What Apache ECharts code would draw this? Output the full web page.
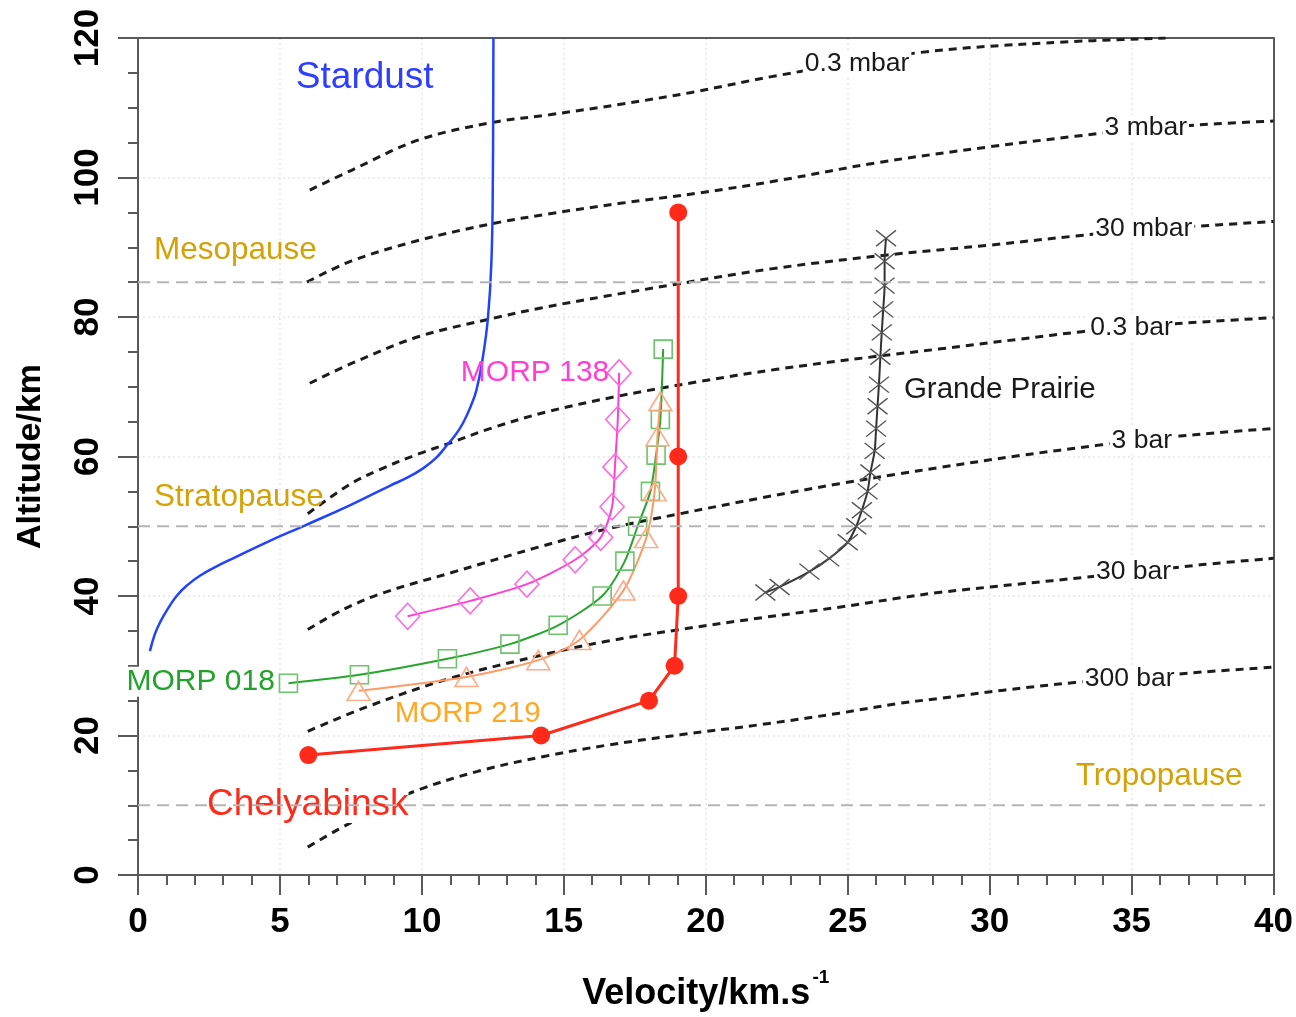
<!DOCTYPE html>
<html>
<head>
<meta charset="utf-8">
<script src="https://cdn.jsdelivr.net/npm/echarts@6/dist/echarts.min.js"></script>
<style>
html, body { margin: 0; padding: 0; background: #fff; }
#chart { width: 1296px; height: 1017px; }
</style>
</head>
<body>
<div id="chart"></div>
<script>
// ---- Trajectories: velocity (km/s) against altitude (km) ----
const stardustVel = [0.42, 0.6, 0.8, 1.01, 1.36, 1.75, 2.18, 2.7, 3.35, 4.53, 5.87, 7.46, 8.87, 9.5, 10.04, 10.5, 10.86, 11.2, 11.45, 11.7, 11.92, 12.15, 12.33, 12.45, 12.5, 12.52];
const stardustAlt = [32.1, 34.6, 36.4, 37.9, 40.0, 41.6, 42.9, 44.1, 45.4, 47.7, 50.1, 53.0, 55.8, 57.0, 58.3, 59.8, 61.5, 63.2, 64.8, 67.0, 69.5, 74.3, 80.0, 88.0, 100.0, 120.0];

const chelyabinskVel = [6.0, 14.2, 18.0, 18.9, 19.03, 19.03, 19.03];
const chelyabinskAlt = [17.2, 20.0, 25.0, 30.0, 40.0, 60.0, 95.0];

const morp138Vel = [9.5, 11.7, 13.7, 15.4, 16.3, 16.7, 16.8, 16.9, 16.95];
const morp138Alt = [37.1, 39.3, 41.7, 45.2, 48.4, 52.8, 58.5, 65.3, 72.0];

const morp018Vel = [5.3, 7.8, 10.9, 13.1, 14.8, 16.35, 17.15, 17.6, 18.05, 18.25, 18.4, 18.5];
const morp018Alt = [27.5, 28.7, 31.0, 33.1, 35.8, 40.0, 45.0, 50.0, 55.0, 60.2, 65.3, 75.4];

const morp219Vel = [7.77, 11.57, 14.1, 15.55, 17.1, 17.9, 18.2, 18.3, 18.4];
const morp219Alt = [26.4, 28.4, 30.8, 33.7, 40.8, 48.3, 55.0, 62.9, 67.9];

const grandePrairieVel = [22.1, 22.6, 23.65, 24.35, 25.0, 25.3, 25.5, 25.7, 25.8, 25.95, 26.0, 26.05, 26.1, 26.15, 26.2, 26.25, 26.3, 26.3, 26.35];
const grandePrairieAlt = [40.5, 41.3, 43.5, 45.4, 47.7, 50.0, 52.3, 55.0, 57.7, 60.8, 64.0, 67.2, 70.3, 74.3, 77.8, 81.1, 84.5, 88.0, 91.3];

// ---- Ram-pressure isobars ----
const isobarNames = ['0.3 mbar', '3 mbar', '30 mbar', '0.3 bar', '3 bar', '30 bar', '300 bar'];
const isobar03mbarVel = [6.05, 7.5, 9.9, 12.5, 14.5, 17.0, 19.5, 22.5, 27.5, 32.0, 36.2];
const isobar03mbarAlt = [98.2, 101.0, 105.4, 107.9, 109.0, 110.5, 112.2, 114.6, 117.9, 119.3, 120.0];
const isobar3mbarVel = [5.95, 7.5, 9.9, 12.5, 14.5, 17.0, 19.8, 22.6, 26.0, 30.0, 33.0, 35.5, 38.0, 40.0];
const isobar3mbarAlt = [85.0, 88.0, 91.0, 93.4, 94.8, 96.3, 97.8, 99.6, 102.1, 104.4, 105.9, 107.0, 107.7, 108.1];
const isobar30mbarVel = [6.05, 7.5, 9.9, 12.5, 14.2, 16.5, 18.8, 22.3, 26.4, 30.0, 33.0, 35.4, 38.0, 40.0];
const isobar30mbarAlt = [70.5, 73.3, 77.2, 79.8, 81.3, 83.0, 84.6, 86.9, 88.9, 90.3, 91.6, 92.5, 93.2, 93.7];
const isobar03barVel = [5.98, 7.46, 8.5, 9.9, 10.9, 12.4, 14.4, 16.85, 19.7, 22.5, 25.9, 28.2, 31.0, 33.25, 35.0, 37.5, 40.0];
const isobar03barAlt = [51.8, 56.0, 58.1, 60.4, 61.8, 64.0, 66.4, 68.6, 70.7, 72.5, 74.3, 75.4, 76.8, 77.9, 78.6, 79.3, 79.9];
const isobar3barVel = [5.98, 7.2, 8.6, 11.0, 14.1, 16.5, 19.1, 22.0, 24.7, 26.8, 28.2, 31.0, 33.8, 35.4, 38.0, 40.0];
const isobar3barAlt = [35.2, 38.0, 40.4, 43.3, 47.0, 49.6, 51.8, 54.1, 56.1, 57.5, 58.4, 60.1, 61.6, 62.4, 63.4, 64.0];
const isobar30barVel = [5.98, 8.06, 11.0, 14.3, 16.5, 19.1, 22.0, 24.7, 26.8, 28.2, 31.0, 33.4, 35.1, 37.5, 40.0];
const isobar30barAlt = [20.6, 24.1, 28.2, 31.6, 33.5, 35.2, 36.9, 38.4, 39.7, 40.5, 41.7, 42.7, 43.4, 44.5, 45.4];
const isobar300barVel = [5.98, 7.04, 8.5, 9.74, 12.0, 14.3, 16.5, 19.1, 22.0, 24.7, 26.8, 28.2, 30.5, 33.0, 34.9, 37.5, 40.0];
const isobar300barAlt = [4.0, 6.5, 9.6, 12.0, 14.9, 17.0, 18.6, 20.1, 21.6, 23.2, 24.6, 25.3, 26.5, 27.6, 28.2, 29.1, 29.8];
// where each isobar name sits on its curve (velocity, altitude)
const isobarLabelVel = [25.33, 35.5, 35.43, 35.0, 35.36, 35.07, 34.93];
const isobarLabelAlt = [116.3, 107.1, 92.6, 78.5, 62.3, 43.5, 28.1];

// ---- Atmospheric layer boundaries (km) ----
const layerNames = ['Mesopause', 'Stratopause', 'Tropopause'];
const layerAlt = [85, 50, 10];
const layerVelSpan = [0, 39.7];

// ---- Axis ticks ----
const velTicks = [0, 5, 10, 15, 20, 25, 30, 35, 40];
const altTicks = [0, 20, 40, 60, 80, 100, 120];

// ---- Text annotations: name, anchor velocity, anchor altitude ----
const annoNames = ['Stardust', 'Mesopause', 'Stratopause', 'Tropopause', 'MORP 138', 'MORP 018', 'MORP 219', 'Chelyabinsk', 'Grande Prairie'];
const annoVel = [5.56, 0.56, 0.56, 33.03, 16.6, 4.82, 9.04, 2.43, 26.98];
const annoAlt = [114.3, 89.6, 54.1, 14.1, 72.0, 27.7, 23.1, 10.1, 69.6];

const zip = (xs, ys) => xs.map((x, i) => [x, ys[i]]);

const SANS = '"Liberation Sans", Arial, Helvetica, sans-serif';
const GOLD = '#d4a106';

const annoStyle = {
  'Stardust':       { color: '#2f3dff', fontSize: 37, align: 'left' },
  'Mesopause':      { color: GOLD, fontSize: 31.5, align: 'left' },
  'Stratopause':    { color: GOLD, fontSize: 31.5, align: 'left' },
  'Tropopause':     { color: GOLD, fontSize: 31.5, align: 'left' },
  'MORP 138':       { color: '#ff3fd2', fontSize: 30, align: 'right' },
  'MORP 018':       { color: '#22a32a', fontSize: 30, align: 'right', backgroundColor: '#fff' },
  'MORP 219':       { color: '#ffa826', fontSize: 29.5, align: 'left' },
  'Chelyabinsk':    { color: '#ff2a1a', fontSize: 37, align: 'left', backgroundColor: '#fff' },
  'Grande Prairie': { color: '#1a1a1a', fontSize: 29.5, align: 'left' }
};

const isobarVel = [isobar03mbarVel, isobar3mbarVel, isobar30mbarVel, isobar03barVel, isobar3barVel, isobar30barVel, isobar300barVel];
const isobarAlt = [isobar03mbarAlt, isobar3mbarAlt, isobar30mbarAlt, isobar03barAlt, isobar3barAlt, isobar30barAlt, isobar300barAlt];

const series = [];

// isobars: short black dashes
isobarNames.forEach((name, i) => {
  series.push({
    name: name,
    type: 'line',
    data: zip(isobarVel[i], isobarAlt[i]),
    smooth: 0.35,
    symbol: 'none',
    z: 2,
    lineStyle: { color: '#1c1c1c', width: 3, type: [8, 6] }
  });
});

// isobar names, with a white box that breaks the dashes
series.push({
  name: 'isobar labels',
  type: 'scatter',
  data: isobarNames.map((n, i) => ({ value: [isobarLabelVel[i], isobarLabelAlt[i]], name: n })),
  symbolSize: 0,
  z: 4,
  silent: true,
  itemStyle: { opacity: 1 },
  label: {
    show: true,
    position: 'inside',
    formatter: p => p.name,
    fontFamily: SANS,
    fontSize: 26.5,
    color: '#1a1a1a',
    backgroundColor: '#fff',
    padding: [0, 2, 0, 2]
  }
});

// trajectories
series.push({
  name: 'Stardust',
  type: 'line',
  data: zip(stardustVel, stardustAlt),
  smooth: 0.45,
  symbol: 'none',
  z: 6,
  lineStyle: { color: '#2242ff', width: 2.5 }
});

series.push({
  name: 'Chelyabinsk',
  type: 'line',
  data: zip(chelyabinskVel, chelyabinskAlt),
  symbol: 'circle',
  symbolSize: 18,
  showAllSymbol: true,
  z: 6,
  lineStyle: { color: '#ff2a1a', width: 3 },
  itemStyle: { color: '#ff2a1a' }
});

const hollow = (color) => ({ color: 'rgba(255,255,255,0)', borderColor: color, borderWidth: 1.6 });

series.push({
  name: 'MORP 138',
  type: 'line',
  data: zip(morp138Vel, morp138Alt),
  smooth: 0.25,
  symbol: 'diamond',
  symbolSize: [24, 26],
  showAllSymbol: true,
  z: 6,
  lineStyle: { color: '#ff3fd2', width: 2 },
  itemStyle: hollow('#ff6be0')
});

series.push({
  name: 'MORP 018',
  type: 'line',
  data: zip(morp018Vel, morp018Alt),
  smooth: 0.25,
  symbol: 'rect',
  symbolSize: 18,
  showAllSymbol: true,
  z: 6,
  lineStyle: { color: '#27a52d', width: 2 },
  itemStyle: hollow('#6cc46c')
});

series.push({
  name: 'MORP 219',
  type: 'line',
  data: zip(morp219Vel, morp219Alt),
  smooth: 0.25,
  symbol: 'triangle',
  symbolSize: [23, 19],
  showAllSymbol: true,
  z: 6,
  lineStyle: { color: '#ff9a66', width: 2 },
  itemStyle: hollow('#ffab86')
});

series.push({
  name: 'Grande Prairie',
  type: 'line',
  data: zip(grandePrairieVel, grandePrairieAlt),
  smooth: 0.25,
  symbol: 'path://M0,0L10,10M10,0L0,10',
  symbolSize: [20, 16],
  showAllSymbol: true,
  z: 6,
  lineStyle: { color: '#333', width: 2 },
  itemStyle: { color: 'rgba(0,0,0,0)', borderColor: '#555', borderWidth: 1.4 }
});

// text annotations
series.push({
  name: 'annotations',
  type: 'scatter',
  data: annoNames.map((n, i) => ({
    value: [annoVel[i], annoAlt[i]],
    name: n,
    label: Object.assign({ verticalAlign: 'middle' }, annoStyle[n])
  })),
  symbolSize: 0,
  z: 7,
  silent: true,
  itemStyle: { opacity: 1 },
  label: {
    show: true,
    position: 'inside',
    fontFamily: SANS,
    formatter: p => p.name
  }
});

// layer boundaries: light grey dashes drawn over everything
layerNames.forEach((name, i) => {
  series.push({
    name: name,
    type: 'line',
    data: layerVelSpan.map(v => [v, layerAlt[i]]),
    symbol: 'none',
    z: 9,
    silent: true,
    lineStyle: { color: '#b5b5b5', width: 2, type: [12, 7] }
  });
});

const frameLine = { show: true, onZero: false, lineStyle: { color: '#5a5a5a', width: 2 } };
const tickStyle = { color: '#5a5a5a', width: 2 };
const gridLine = { show: true, lineStyle: { color: '#e6e6e6', width: 1.5, type: [2, 3] } };

const chart = echarts.init(document.getElementById('chart'), null, { renderer: 'canvas' });
chart.setOption({
  animation: false,
  backgroundColor: '#fff',
  grid: { left: 138, right: 21, top: 38, bottom: 134 },
  xAxis: [{
    type: 'value',
    min: velTicks[0], max: velTicks[velTicks.length - 1], interval: 5,
    name: '{a|Velocity/km.s}{sup|-1}',
    nameLocation: 'middle',
    nameGap: 93,
    nameTextStyle: {
      rich: {
        a: { fontFamily: SANS, fontWeight: 'bold', fontSize: 36, color: '#000', verticalAlign: 'bottom', lineHeight: 44 },
        sup: { fontFamily: SANS, fontWeight: 'bold', fontSize: 19, color: '#000', verticalAlign: 'top', lineHeight: 44, padding: [0, 0, 0, 2] }
      }
    },
    axisLine: frameLine,
    axisTick: { show: true, inside: false, length: 20, lineStyle: tickStyle },
    minorTick: { show: true, splitNumber: 5, length: 10, lineStyle: tickStyle },
    splitLine: gridLine,
    axisLabel: { fontFamily: SANS, fontWeight: 'bold', fontSize: 35, color: '#000', margin: 30 }
  }, {
    type: 'value', position: 'top',
    min: velTicks[0], max: velTicks[velTicks.length - 1],
    axisLine: frameLine, axisTick: { show: false }, axisLabel: { show: false }, splitLine: { show: false }
  }],
  yAxis: [{
    type: 'value',
    min: altTicks[0], max: altTicks[altTicks.length - 1], interval: 20,
    name: 'Altitude/km',
    nameLocation: 'middle',
    nameGap: 90,
    nameTextStyle: { fontFamily: SANS, fontWeight: 'bold', fontSize: 34, color: '#000' },
    axisLine: frameLine,
    axisTick: { show: true, inside: false, length: 20, lineStyle: tickStyle },
    minorTick: { show: true, splitNumber: 4, length: 10, lineStyle: tickStyle },
    splitLine: gridLine,
    axisLabel: { fontFamily: SANS, fontWeight: 'bold', fontSize: 35, color: '#000', rotate: 90, margin: 32 }
  }, {
    type: 'value', position: 'right',
    min: altTicks[0], max: altTicks[altTicks.length - 1],
    axisLine: frameLine, axisTick: { show: false }, axisLabel: { show: false }, splitLine: { show: false }
  }],
  series: series
});
</script>
</body>
</html>
